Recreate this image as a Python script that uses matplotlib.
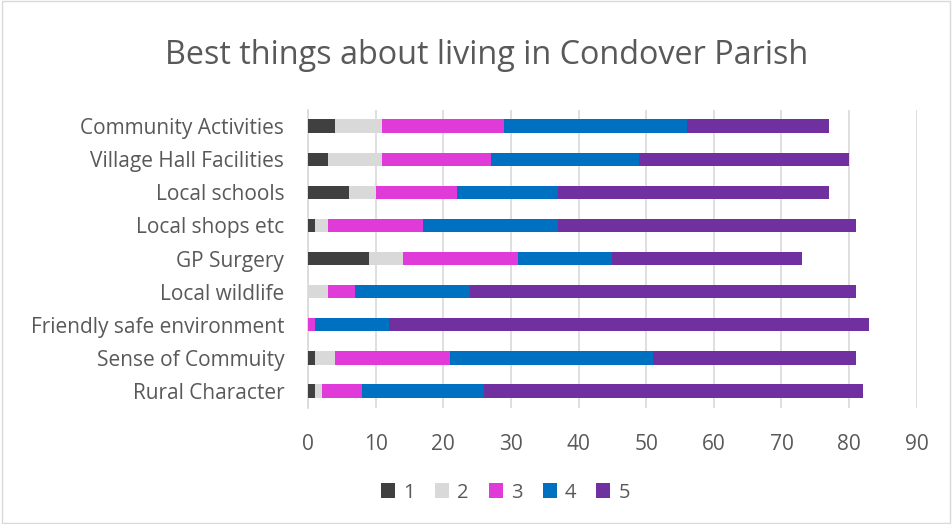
import matplotlib
matplotlib.use("Agg")
import matplotlib.pyplot as plt
import numpy as np

categories = ["Rural Character", "Sense of Commuity", "Friendly safe environment",
              "Local wildlife", "GP Surgery", "Local shops etc", "Local schools",
              "Village Hall Facilities", "Community Activities"]
score_1 = [1, 1, 0, 0, 9, 1, 6, 3, 4]
score_2 = [1, 3, 0, 3, 5, 2, 4, 8, 7]
score_3 = [6, 17, 1, 4, 17, 14, 12, 16, 18]
score_4 = [18, 30, 11, 17, 14, 20, 15, 22, 27]
score_5 = [56, 30, 71, 57, 28, 44, 40, 31, 21]
series_names = ["1", "2", "3", "4", "5"]
colors = ["#404040", "#D9D9D9", "#E03BD8", "#0070C0", "#7030A0"]

plt.rcParams['font.family'] = ['Open Sans', 'DejaVu Sans']
text_col = "#595959"

fig = plt.figure(figsize=(9.52, 5.24), dpi=100)
ax = fig.add_axes([0.3235, 0.222, 0.6395, 0.569])

y = np.arange(len(categories))
left = np.zeros(len(categories))
for name, vals, c in zip(series_names, [score_1, score_2, score_3, score_4, score_5], colors):
    ax.barh(y, vals, left=left, height=0.4, color=c, label=name, zorder=3)
    left += np.array(vals)

ax.set_xlim(0, 90)
ax.set_ylim(-0.5, len(categories) - 0.5)
ax.set_xticks(range(0, 91, 10))
ax.set_yticks(y)
ax.set_yticklabels(categories)
ax.tick_params(axis='both', length=0, labelsize=15, colors=text_col)
ax.tick_params(axis='x', pad=19)
ax.tick_params(axis='y', pad=17)
ax.grid(axis='x', color="#D9D9D9", linewidth=1.2, zorder=0)
for s in ['top', 'right', 'bottom']:
    ax.spines[s].set_visible(False)
ax.spines['left'].set_color("#D9D9D9")
ax.spines['left'].set_linewidth(1.2)

fig.text(0.511, 0.895, "Best things about living in Condover Parish", ha='center', va='center',
         fontsize=23.3, color=text_col)

leg = fig.legend(loc='center', bbox_to_anchor=(0.531, 0.06), ncol=5, frameon=False,
                 fontsize=14.5, handlelength=0.7, handleheight=0.7, handletextpad=0.4,
                 columnspacing=1.0)
for t in leg.get_texts():
    t.set_color(text_col)

fig.patches.append(plt.Rectangle((0.002, 0.002), 0.996, 0.996, transform=fig.transFigure,
                                 fill=False, edgecolor="#D9D9D9", linewidth=1))

fig.savefig("out.png", dpi=100)
